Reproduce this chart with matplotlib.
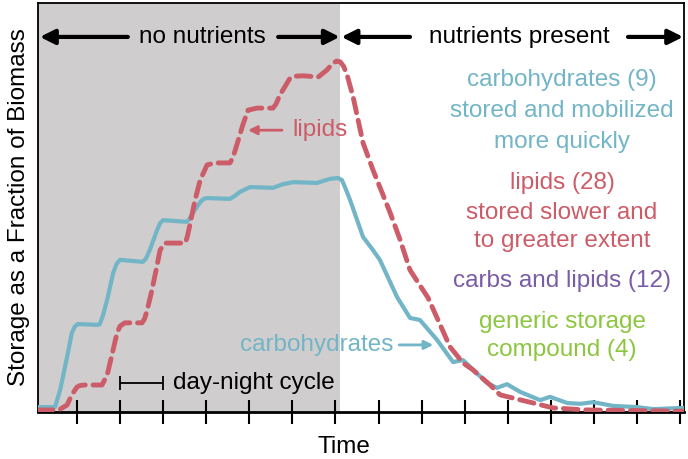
import matplotlib.pyplot as plt

plt.rcParams['font.family'] = ['Liberation Sans', 'DejaVu Sans']

# time in days, storage as fraction of biomass
carb_t = [-0.9, -0.51, -0.39, -0.23, -0.12, -0.05, 0.02, 0.49, 0.53, 0.60, 0.70, 0.84,
          0.92, 1.00, 1.53, 1.60, 1.69, 1.86, 1.93, 2.00, 2.55, 2.61, 2.69, 2.86, 2.94,
          3.02, 3.55, 3.66, 3.78, 4.02, 4.55, 4.78, 5.02, 5.57, 5.87, 6.06, 6.15, 6.22,
          6.34, 6.64, 6.87, 7.03, 7.43, 7.73, 7.96, 8.36, 8.73, 8.96, 9.52, 9.75, 9.98,
          10.29, 10.75, 10.98, 11.38, 11.68, 11.98, 12.44, 13.00, 13.37, 14.07]
carb_y = [0.012, 0.012, 0.054, 0.134, 0.193, 0.209, 0.215, 0.213, 0.215, 0.235, 0.274, 0.340,
          0.362, 0.372, 0.367, 0.375, 0.396, 0.445, 0.462, 0.469, 0.465, 0.472, 0.487, 0.513, 0.521,
          0.523, 0.521, 0.528, 0.538, 0.550, 0.548, 0.557, 0.562, 0.560, 0.570, 0.572, 0.567, 0.550,
          0.518, 0.428, 0.396, 0.372, 0.281, 0.230, 0.225, 0.176, 0.122, 0.127, 0.071, 0.059, 0.068,
          0.049, 0.029, 0.037, 0.022, 0.020, 0.024, 0.015, 0.012, 0.007, 0.010]

lipid_t = [-0.9, -0.58, -0.39, -0.23, -0.12, 0.0, 0.08, 0.19, 0.58, 0.70, 0.81, 0.93, 1.00,
           1.11, 1.51, 1.57, 1.63, 1.74, 1.86, 1.93, 2.04, 2.51, 2.56, 2.62, 2.74, 2.86, 3.02,
           3.20, 3.55, 3.62, 3.71, 3.85, 3.97, 4.18, 4.55, 4.62, 4.71, 4.95, 5.05, 5.25, 5.60,
           5.80, 5.94, 6.03, 6.11, 6.19, 6.27, 6.41, 6.64, 6.87, 7.27, 7.50, 7.73, 8.15, 8.66,
           8.96, 9.19, 9.59, 9.82, 10.12, 10.59, 11.05, 11.84, 14.07]
lipid_y = [0.005, 0.005, 0.007, 0.017, 0.042, 0.061, 0.065, 0.066, 0.066, 0.090, 0.139, 0.193, 0.210,
           0.218, 0.218, 0.228, 0.249, 0.298, 0.359, 0.396, 0.413, 0.413, 0.428, 0.457, 0.518, 0.567,
           0.604, 0.609, 0.609, 0.622, 0.653, 0.702, 0.738, 0.743, 0.743, 0.753, 0.775, 0.817, 0.821,
           0.822, 0.819, 0.836, 0.853, 0.858, 0.856, 0.845, 0.824, 0.770, 0.658, 0.592, 0.487, 0.421,
           0.347, 0.279, 0.159, 0.120, 0.103, 0.066, 0.042, 0.034, 0.022, 0.010, 0.005, 0.002]

days = list(range(15))
switch_day = 6.1

notes = [
    ("carbohydrates (9)", 0.812, "#72b5c6"),
    ("stored and mobilized", 0.736, "#72b5c6"),
    ("more quickly", 0.660, "#72b5c6"),
    ("lipids (28)", 0.560, "#cc5c68"),
    ("stored slower and", 0.487, "#cc5c68"),
    ("to greater extent", 0.418, "#cc5c68"),
    ("carbs and lipids (12)", 0.320, "#7a5ca6"),
    ("generic storage", 0.220, "#8cc63f"),
    ("compound (4)", 0.152, "#8cc63f"),
]

blue = "#72b5c6"
red = "#cc5c68"
fs = 17.5

fig = plt.figure(figsize=(6.88, 4.59), dpi=100)
ax = fig.add_axes([0.0552, 0.1024, 0.9390, 0.8911])
ax.set_xlim(-0.905, 14.09)
ax.set_ylim(0, 1)

ax.axvspan(-0.905, switch_day, color="#cfcdce", lw=0, zorder=0)
ax.plot(carb_t, carb_y, color=blue, lw=3, zorder=3, solid_joinstyle="round")
ax.plot(lipid_t, lipid_y, color=red, lw=3.5, dashes=(3, 1.6), zorder=4,
        dash_capstyle="round", dash_joinstyle="round")

ax.set_xticks(days)
ax.set_xticklabels([])
ax.set_yticks([])
ax.tick_params(axis="x", direction="inout", length=17, width=1.5)
for s in ax.spines.values():
    s.set_linewidth(1.3)
ax.spines["bottom"].set_linewidth(2)

ax.set_xlabel("Time", fontsize=fs, labelpad=5, x=0.474)
ax.set_ylabel("Storage as a Fraction of Biomass", fontsize=fs, labelpad=6)

# phase arrows along the top
big = dict(arrowstyle="-|>", color="black", lw=3, mutation_scale=22, shrinkA=0, shrinkB=0)
ax.text(2.9, 0.917, "no nutrients", fontsize=fs, ha="center", va="center")
ax.annotate("", xy=(-0.86, 0.917), xytext=(1.18, 0.917), arrowprops=big)
ax.annotate("", xy=(6.1, 0.917), xytext=(4.67, 0.917), arrowprops=big)
ax.text(10.26, 0.917, "nutrients present", fontsize=fs, ha="center", va="center")
ax.annotate("", xy=(6.14, 0.917), xytext=(7.73, 0.917), arrowprops=big)
ax.annotate("", xy=(14.07, 0.917), xytext=(12.79, 0.917), arrowprops=big)

# curve labels
small_r = dict(arrowstyle="-|>", color=red, lw=2, mutation_scale=13, shrinkA=0, shrinkB=0)
ax.text(4.99, 0.689, "lipids", fontsize=fs, color=red, ha="left", va="center")
ax.annotate("", xy=(3.97, 0.689), xytext=(4.76, 0.689), arrowprops=small_r)
small_b = dict(arrowstyle="-|>", color=blue, lw=2, mutation_scale=13, shrinkA=0, shrinkB=0)
ax.text(7.34, 0.164, "carbohydrates", fontsize=fs, color=blue, ha="right", va="center")
ax.annotate("", xy=(8.27, 0.164), xytext=(7.48, 0.164), arrowprops=small_b)

# day-night bracket
ax.errorbar([1.5], [0.071], xerr=[[0.5], [0.5]], fmt="none", ecolor="black",
            elinewidth=1.3, capsize=5, capthick=1.3)
ax.text(2.23, 0.071, "day-night cycle", fontsize=fs, ha="left", va="center")

for label, y, c in notes:
    ax.text(11.26, y, label, fontsize=fs, color=c, ha="center", va="center")

fig.savefig("out.png", dpi=100)
